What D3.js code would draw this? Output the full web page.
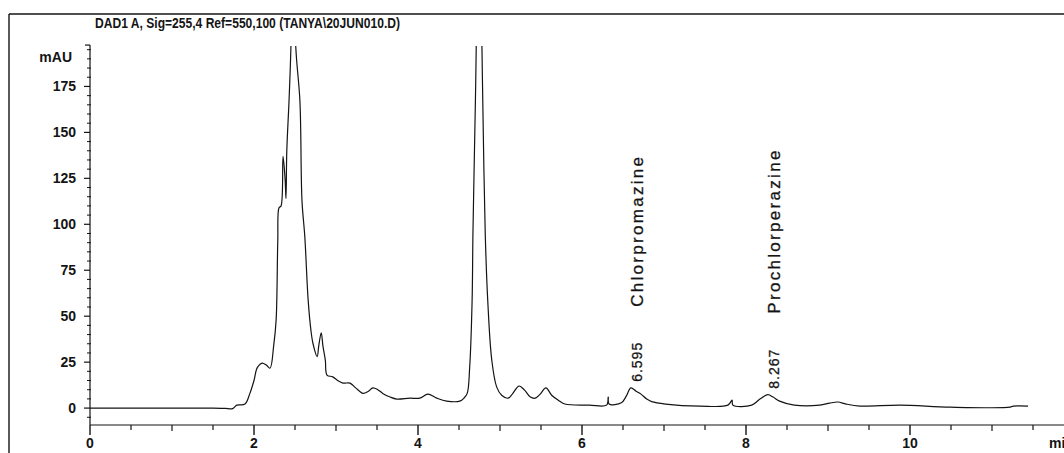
<!DOCTYPE html>
<html>
<head>
<meta charset="utf-8">
<script src="https://cdn.jsdelivr.net/npm/d3@7"></script>
<style>
  html, body { margin: 0; padding: 0; background: #fff; }
  svg { display: block; }
</style>
</head>
<body>
<svg id="chart" width="1064" height="453"></svg>
<script>
// DAD1 A chromatogram: retention time (min) vs absorbance (mAU)
const title = "DAD1 A, Sig=255,4 Ref=550,100 (TANYA\\20JUN010.D)";

const time = [
  0.00, 0.50, 1.00, 1.50, 1.65, 1.74, 1.79, 1.89, 1.95, 2.00, 2.04, 2.10, 2.15, 2.195,
  2.24, 2.27, 2.29, 2.305, 2.33, 2.354, 2.38, 2.39, 2.40, 2.427, 2.45, 2.475, 2.51,
  2.56, 2.585, 2.62, 2.66, 2.695, 2.72, 2.77, 2.79, 2.82, 2.84, 2.87, 2.89, 2.96,
  3.02, 3.085, 3.17, 3.24, 3.33, 3.39, 3.45, 3.51, 3.57, 3.66, 3.74, 3.90, 4.02,
  4.12, 4.23, 4.35, 4.51, 4.56, 4.60, 4.63, 4.66, 4.67, 4.70, 4.71, 4.74, 4.78,
  4.79, 4.82, 4.85, 4.90, 4.96, 5.02, 5.10, 5.15, 5.23, 5.30, 5.37, 5.43, 5.49,
  5.56, 5.63, 5.71, 5.79, 6.09, 6.30, 6.32, 6.33, 6.48, 6.54, 6.595, 6.66, 6.72,
  6.79, 6.85, 7.02, 7.44, 7.78, 7.83, 7.84, 8.07, 8.17, 8.267, 8.33, 8.41, 8.59,
  8.90, 9.02, 9.12, 9.22, 9.39, 9.88, 10.49, 11.22, 11.26, 11.44
];

const signal = [
  0.0, 0.0, 0.0, 0.0, -0.2, -0.3, 1.6, 2.2, 8.0, 15.0, 22.0, 24.5, 23.4, 21.7,
  34.0, 48.0, 91.0, 109.0, 110.0, 137.0, 124.0, 114.0, 140.0, 167.0, 196.0, 260.0, 196.0,
  167.0, 113.0, 93.0, 59.0, 42.0, 35.0, 28.0, 34.0, 41.0, 34.0, 26.0, 18.0, 17.0,
  15.0, 13.6, 13.6, 11.0, 8.0, 9.0, 11.0, 10.0, 8.0, 6.0, 4.9, 5.4, 5.4,
  7.6, 5.4, 3.8, 3.8, 5.4, 8.0, 22.0, 59.0, 95.0, 167.0, 196.0, 320.0, 196.0,
  167.0, 95.0, 59.0, 26.0, 11.4, 7.0, 5.4, 7.6, 12.0, 9.8, 6.0, 5.4, 7.6,
  11.0, 7.0, 4.3, 2.2, 1.6, 1.6, 6.0, 2.2, 2.9, 6.5, 11.0, 9.2, 7.6,
  4.9, 3.5, 2.2, 1.1, 1.6, 4.3, 1.6, 1.6, 4.9, 7.3, 6.0, 3.8, 1.6,
  1.6, 2.7, 3.3, 2.2, 1.1, 1.6, 0.5, 0.5, 1.1, 1.1
];

// Integrated peaks: retention time and compound name
const peakTimes = [6.595, 8.267];
const peakNames = ["Chlorpromazine", "Prochlorperazine"];

const yTicks = [0, 25, 50, 75, 100, 125, 150, 175];
const xTicks = [0, 2, 4, 6, 8, 10];

const svg = d3.select("#chart");

const x = d3.scaleLinear().domain([0, 12]).range([90, 1074]);
const y = d3.scaleLinear().domain([-9.2, 197]).range([425, 46]);

const ink = "#141414";
const labelFont = "'Liberation Sans', Arial, sans-serif";
const narrowFont = "'Liberation Sans Narrow', 'Liberation Sans', Arial, sans-serif";

// frame
svg.append("line").attr("x1", 9).attr("x2", 1064).attr("y1", 14).attr("y2", 14)
  .attr("stroke", ink).attr("stroke-width", 1.6);
svg.append("line").attr("x1", 9).attr("x2", 9).attr("y1", 14).attr("y2", 453)
  .attr("stroke", ink).attr("stroke-width", 1.4);

// title
svg.append("text")
  .attr("x", 95).attr("y", 28)
  .attr("font-family", narrowFont).attr("font-size", 14).attr("font-weight", "bold")
  .attr("textLength", 305).attr("lengthAdjust", "spacingAndGlyphs")
  .attr("fill", ink)
  .text(title);

// y axis
const yMinor = d3.range(-5, 197, 5).filter(v => !yTicks.includes(v));
const yAxis = svg.append("g").attr("transform", `translate(${x(0)},0)`);
yAxis.append("line").attr("x1", 0).attr("x2", 0).attr("y1", y(197.5)).attr("y2", y(-9.2))
  .attr("stroke", ink).attr("stroke-width", 1.2);
yAxis.append("line").attr("x1", -5).attr("x2", 0).attr("y1", y(197.5)).attr("y2", y(197.5))
  .attr("stroke", ink).attr("stroke-width", 1.2);
yAxis.selectAll(".ymaj").data(yTicks).join("line")
  .attr("x1", -6).attr("x2", 0).attr("y1", d => y(d)).attr("y2", d => y(d))
  .attr("stroke", ink).attr("stroke-width", 1.2);
yAxis.selectAll(".ymin").data(yMinor).join("line")
  .attr("x1", -3).attr("x2", 1).attr("y1", d => y(d)).attr("y2", d => y(d))
  .attr("stroke", ink).attr("stroke-width", 1);
yAxis.selectAll(".ylab").data(yTicks).join("text")
  .attr("x", -14).attr("y", d => y(d)).attr("dy", "0.36em")
  .attr("text-anchor", "end")
  .attr("font-family", narrowFont).attr("font-size", 14).attr("font-weight", "bold")
  .attr("fill", ink)
  .text(d => d);
yAxis.append("text")
  .attr("x", -18).attr("y", y(191)).attr("dy", "0.36em")
  .attr("text-anchor", "end")
  .attr("font-family", narrowFont).attr("font-size", 14).attr("font-weight", "bold")
  .attr("fill", ink)
  .text("mAU");

// x axis
const xMinor = d3.range(0.5, 12, 1);
const xMid = d3.range(1, 12, 2);
const xAxis = svg.append("g").attr("transform", `translate(0,${y(-9.2)})`);
xAxis.append("line").attr("x1", x(0)).attr("x2", 1064).attr("y1", 0).attr("y2", 0)
  .attr("stroke", ink).attr("stroke-width", 1.2);
xAxis.selectAll(".xmaj").data(xTicks).join("line")
  .attr("x1", d => x(d)).attr("x2", d => x(d)).attr("y1", 0).attr("y2", 10)
  .attr("stroke", ink).attr("stroke-width", 1.4);
xAxis.selectAll(".xmid").data(xMid).join("line")
  .attr("x1", d => x(d)).attr("x2", d => x(d)).attr("y1", 0).attr("y2", 6)
  .attr("stroke", ink).attr("stroke-width", 1.2);
xAxis.selectAll(".xmin").data(xMinor).join("line")
  .attr("x1", d => x(d)).attr("x2", d => x(d)).attr("y1", 0).attr("y2", 5)
  .attr("stroke", ink).attr("stroke-width", 1.2);
xAxis.selectAll(".xlab").data(xTicks).join("text")
  .attr("x", d => x(d)).attr("y", 23)
  .attr("text-anchor", "middle")
  .attr("font-family", narrowFont).attr("font-size", 14).attr("font-weight", "bold")
  .attr("fill", ink)
  .text(d => d);
xAxis.append("text")
  .attr("x", 1049).attr("y", 23)
  .attr("font-family", narrowFont).attr("font-size", 14).attr("font-weight", "bold")
  .attr("fill", ink)
  .text("min");

// signal trace, clipped at the top of the plot
svg.append("clipPath").attr("id", "plot-clip")
  .append("rect").attr("x", x(0)).attr("y", y(197)).attr("width", 1064 - x(0)).attr("height", y(-9.2) - y(197));

const trace = time.map((t, i) => [t, signal[i]]);
const line = d3.line()
  .x(d => x(d[0]))
  .y(d => y(d[1]))
  .curve(d3.curveCatmullRom.alpha(0.5));

svg.append("path")
  .datum(trace)
  .attr("clip-path", "url(#plot-clip)")
  .attr("fill", "none")
  .attr("stroke", ink)
  .attr("stroke-width", 1.2)
  .attr("d", line);

// peak annotations: retention time and compound name, rotated
const peakTop = t => signal[time.indexOf(t)];
const ann = svg.append("g");
peakTimes.forEach((t, i) => {
  const px = x(t) + 11;
  const py = y(peakTop(t)) - 6;
  ann.append("text")
    .attr("transform", `translate(${px},${py}) rotate(-90)`)
    .attr("font-family", labelFont).attr("font-size", 14)
    .attr("letter-spacing", 1)
    .attr("fill", ink).attr("stroke", ink).attr("stroke-width", 0.3)
    .text(t.toFixed(3));
  ann.append("text")
    .attr("transform", `translate(${px + 1},${py - 75}) rotate(-90)`)
    .attr("font-family", labelFont).attr("font-size", 17)
    .attr("letter-spacing", 2.3)
    .attr("fill", ink).attr("stroke", ink).attr("stroke-width", 0.3)
    .text(peakNames[i]);
});
</script>
</body>
</html>
